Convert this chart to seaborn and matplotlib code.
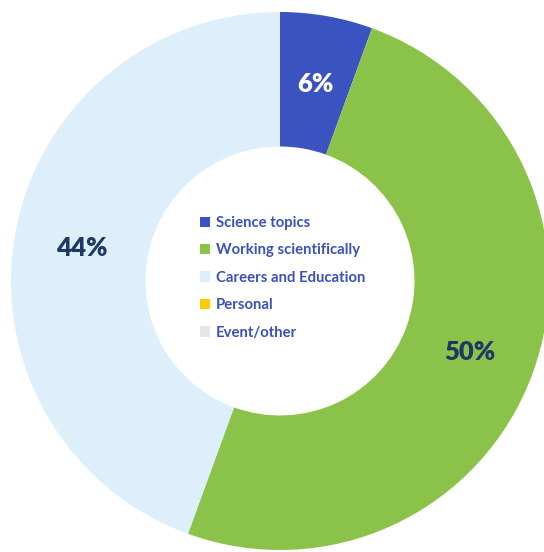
import matplotlib
matplotlib.use("Agg")
import matplotlib.pyplot as plt
import seaborn as sns

categories = ["Science topics", "Working scientifically", "Careers and Education", "Personal", "Event/other"]
counts = [1, 9, 8, 0, 0]
colors = ["#3A53C0", "#8BC34A", "#DDEFFA", "#FFCC00", "#E6E6E6"]
label_colors = ["white", "#1F3864", "#1F3864", "#1F3864", "#1F3864"]

sns.set_theme(style="white")
plt.rcParams['font.family'] = ['Lato', 'DejaVu Sans']

fig = plt.figure(figsize=(5.44, 5.52), dpi=100)
ax = fig.add_axes([11 / 544, 2 / 552, 538 / 544, 538 / 552])

def fmt(p):
    return f"{p:.0f}%" if p > 0.5 else ""

wedges, texts, autotexts = ax.pie(
    counts, colors=sns.color_palette(colors), startangle=90, counterclock=False,
    radius=1.0, wedgeprops=dict(width=0.5, edgecolor="none"),
    autopct=fmt, pctdistance=0.75,
    textprops=dict(fontsize=18.5, fontweight="heavy"))
for t, c in zip(autotexts, label_colors):
    t.set_color(c)
    t.set_va("center_baseline")

ax.set_xlim(-1, 1)
ax.set_ylim(-1, 1)
ax.set_aspect("equal")
ax.axis("off")

leg = ax.legend(wedges, categories, loc="center", bbox_to_anchor=(0.505, 0.506),
                frameon=False, handlelength=0.7, handleheight=0.7, handletextpad=0.4,
                labelspacing=0.9, prop=dict(family="Lato", weight="bold", size=10.7))
for txt in leg.get_texts():
    txt.set_color("#3A50BB")

fig.savefig("out.png", dpi=100)
